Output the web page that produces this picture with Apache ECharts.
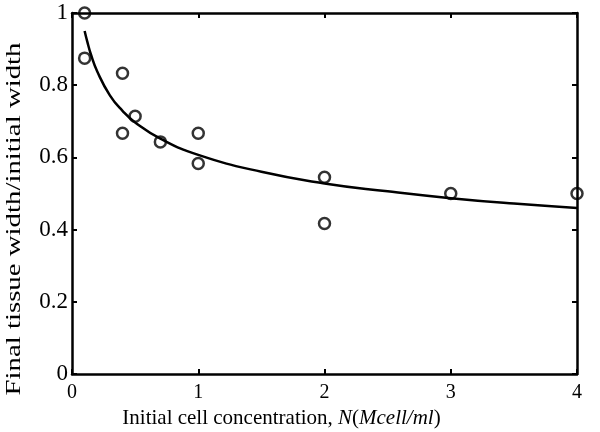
<!DOCTYPE html>
<html><head><meta charset="utf-8">
<script src="https://cdn.jsdelivr.net/npm/echarts@6/dist/echarts.min.js"></script>
<style>html,body{margin:0;padding:0;background:#fff}#c{width:600px;height:432px}</style>
</head><body><div id="c"></div>
<script>
// measured data points
const pointX = [0.1, 0.1, 0.4, 0.4, 0.5, 0.7, 1.0, 1.0, 2.0, 2.0, 3.0, 4.0];
const pointY = [1.0, 0.875, 0.833, 0.667, 0.714, 0.643, 0.667, 0.583, 0.545, 0.417, 0.5, 0.5];
// fitted curve
const curveX = [0.1, 0.12, 0.15, 0.2, 0.3, 0.4, 0.5, 0.7, 1.0, 1.5, 2.0, 2.5, 3.0, 3.5, 4.0];
const curveY = [0.95, 0.922, 0.885, 0.838, 0.772, 0.729, 0.697, 0.652, 0.607, 0.560, 0.528, 0.506, 0.487, 0.472, 0.460];
const xTicks = [0, 1, 2, 3, 4];
const yTicks = [0, 0.2, 0.4, 0.6, 0.8, 1];
const yTitle = 'Final tissue width/initial width';

const font = 'Liberation Serif';
const chart = echarts.init(document.getElementById('c'));
const axLine = {show: true, onZero: false, lineStyle: {color: '#000', width: 2.5}};
const axTick = {show: true, inside: true, length: 5, lineStyle: {color: '#000', width: 2}};
chart.setOption({
  animation: false,
  backgroundColor: '#fff',
  grid: {left: 72, right: 23, top: 13, bottom: 58, containLabel: false, outerBoundsMode: 'none'},
  xAxis: [{
    type: 'value', min: xTicks[0], max: xTicks[xTicks.length - 1], interval: 1,
    axisLine: axLine, axisTick: axTick, splitLine: {show: false},
    axisLabel: {color: '#000', fontFamily: font, fontSize: 20, margin: 9,
      formatter: v => String(v)},
    name: '{n|Initial cell concentration, }{i|N}{n|(}{i|Mcell/ml}{n|)}',
    nameLocation: 'middle', nameGap: 25,
    nameTextStyle: {padding: [0, 86, 0, 0],
      rich: {n: {fontFamily: font, fontSize: 21, color: '#000'},
             i: {fontFamily: font, fontSize: 21, fontStyle: 'italic', color: '#000'}}}
  }, {
    type: 'value', min: xTicks[0], max: xTicks[xTicks.length - 1], interval: 1, position: 'top',
    axisLine: axLine, axisTick: axTick, axisLabel: {show: false}, splitLine: {show: false}
  }],
  yAxis: [{
    type: 'value', min: yTicks[0], max: yTicks[yTicks.length - 1], interval: 0.2,
    axisLine: axLine, axisTick: axTick, splitLine: {show: false},
    axisLabel: {color: '#000', fontFamily: font, fontSize: 23, margin: 4,
      formatter: v => String(Math.round(v * 10) / 10)}
  }, {
    type: 'value', min: yTicks[0], max: yTicks[yTicks.length - 1], interval: 0.2, position: 'right',
    axisLine: axLine, axisTick: axTick, axisLabel: {show: false}, splitLine: {show: false}
  }],
  graphic: [{
    type: 'text', x: 14.5, y: 219, rotation: Math.PI / 2, scaleX: 1.31,
    style: {text: yTitle, fontFamily: font, fontSize: 22, fill: '#000',
      align: 'center', verticalAlign: 'middle'}
  }],
  series: [{
    type: 'line', smooth: true, showSymbol: false,
    data: curveX.map((x, i) => [x, curveY[i]]),
    lineStyle: {color: '#000', width: 2.5}, z: 2
  }, {
    type: 'scatter', symbol: 'circle', symbolSize: 11,
    data: pointX.map((x, i) => [x, pointY[i]]),
    itemStyle: {color: 'rgba(255,255,255,0)', borderColor: '#000', borderWidth: 2.5}, z: 3
  }]
});
</script></body></html>
